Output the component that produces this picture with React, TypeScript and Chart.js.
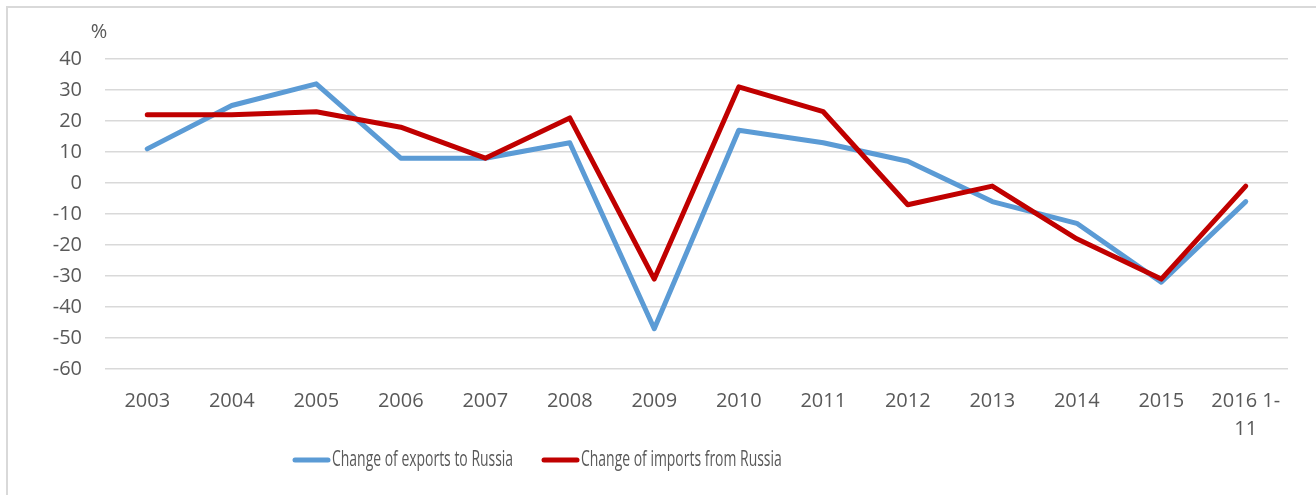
import { useEffect, useRef } from "react";
import { Chart, registerables } from "chart.js";

Chart.register(...registerables);

const categories: (string | string[])[] = [
  "2003", "2004", "2005", "2006", "2007", "2008", "2009",
  "2010", "2011", "2012", "2013", "2014", "2015", ["2016 1-", "11"],
];
const exportsChange = [11, 25, 32, 8, 8, 13, -47, 17, 13, 7, -6, -13, -32, -6];
const importsChange = [22, 22, 23, 18, 8, 21, -31, 31, 23, -7, -1, -18, -31, -1];
const yMin = -60;
const yMax = 40;
const yStep = 10;
const unitLabel = "%";
const exportsLabel = "Change of exports to Russia";
const importsLabel = "Change of imports from Russia";

const TEXT = "#595959";
const FONT = "'Open Sans', 'Liberation Sans', sans-serif";
const legendX = [293, 542];
const legendY = 460;
const legendTextScale = 0.62;

const overlayPlugin = {
  id: "overlay",
  afterDraw(chart: any) {
    const ctx: CanvasRenderingContext2D = chart.ctx;
    ctx.save();
    ctx.fillStyle = TEXT;
    ctx.font = `20px ${FONT}`;
    ctx.textAlign = "center";
    ctx.textBaseline = "middle";
    ctx.fillText(unitLabel, 99, 32);

    chart.data.datasets.forEach((ds: any, i: number) => {
      const x = legendX[i];
      ctx.strokeStyle = ds.borderColor;
      ctx.lineWidth = 5;
      ctx.lineCap = "round";
      ctx.beginPath();
      ctx.moveTo(x + 2, legendY);
      ctx.lineTo(x + 35, legendY);
      ctx.stroke();
      ctx.save();
      ctx.translate(x + 39, legendY);
      ctx.scale(legendTextScale, 1);
      ctx.font = `22.5px ${FONT}`;
      ctx.textAlign = "left";
      ctx.textBaseline = "middle";
      ctx.fillStyle = TEXT;
      ctx.fillText(ds.label, 0, 0);
      ctx.restore();
    });
    ctx.restore();
  },
};

export default function App() {
  const canvasRef = useRef<HTMLCanvasElement | null>(null);

  useEffect(() => {
    const canvas = canvasRef.current;
    if (!canvas) return;
    const chart = new Chart(canvas, {
      type: "line",
      data: {
        labels: categories as any,
        datasets: [
          {
            label: exportsLabel,
            data: exportsChange,
            borderColor: "#5B9BD5",
            backgroundColor: "#5B9BD5",
            borderWidth: 5,
            pointRadius: 0,
            tension: 0,
            borderJoinStyle: "round",
            borderCapStyle: "round",
            order: 1,
          },
          {
            label: importsLabel,
            data: importsChange,
            borderColor: "#C00000",
            backgroundColor: "#C00000",
            borderWidth: 5,
            pointRadius: 0,
            tension: 0,
            borderJoinStyle: "round",
            borderCapStyle: "round",
            order: 0,
          },
        ],
      },
      options: {
        animation: false,
        responsive: false,
        devicePixelRatio: 1,
        layout: { padding: { top: 59, right: 28, left: 0, bottom: 0 } },
        scales: {
          x: {
            offset: true,
            grid: { display: false },
            border: { display: false },
            ticks: {
              color: TEXT,
              font: { family: FONT, size: 20, lineHeight: 1.4 },
              padding: 10,
              maxRotation: 0,
              autoSkip: false,
            },
            afterFit: (s: any) => {
              s.height = 126;
            },
          },
          y: {
            min: yMin,
            max: yMax,
            ticks: {
              stepSize: yStep,
              color: TEXT,
              font: { family: FONT, size: 20 },
              padding: 23,
            },
            grid: { color: "#D9D9D9", lineWidth: 1.5, drawTicks: false },
            border: { display: false },
            afterFit: (s: any) => {
              s.width = 105;
            },
          },
        },
        plugins: {
          legend: { display: false },
          tooltip: { enabled: false },
        },
      },
      plugins: [overlayPlugin],
    });
    return () => chart.destroy();
  }, []);

  return (
    <div
      style={{
        position: "fixed",
        left: 0,
        top: 0,
        width: 1316,
        height: 495,
        overflow: "hidden",
        background: "#fff",
      }}
    >
      <div
        style={{
          position: "absolute",
          left: 6,
          top: 6,
          width: 1400,
          height: 600,
          border: "2px solid #D9D9D9",
        }}
      />
      <canvas
        ref={canvasRef}
        width={1316}
        height={495}
        style={{ position: "absolute", left: 0, top: 0, width: 1316, height: 495 }}
      />
    </div>
  );
}
